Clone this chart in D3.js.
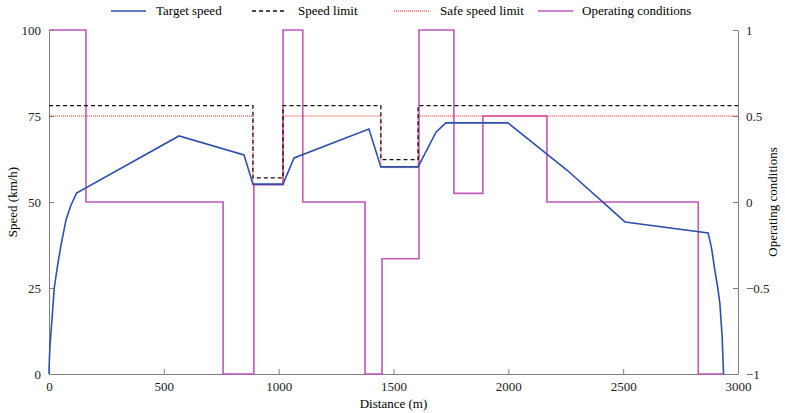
<!DOCTYPE html>
<html>
<head>
<meta charset="utf-8">
<script src="https://cdn.jsdelivr.net/npm/d3@7"></script>
<style>
  body { margin: 0; background: #fff; }
  text { font-family: "Liberation Serif", "Times New Roman", serif; }
</style>
</head>
<body>
<div id="chart"></div>
<script>
// Target speed profile (distance m, speed km/h)
const targetDist  = [0, 1, 4, 12, 23, 36, 51, 74, 95, 120, 566, 849, 888, 1019, 1067, 1393, 1445, 1607, 1685, 1728, 1998, 2255, 2508, 2870, 2885, 2899, 2911, 2921, 2931, 2937];
const targetSpeed = [0, 3, 8, 15, 25, 31, 37, 44.8, 49, 52.6, 69.2, 63.7, 55.2, 55.2, 62.8, 71.2, 60.2, 60.2, 70.3, 73, 73, 59.3, 44.2, 41, 36.5, 30.2, 25.5, 20.6, 10.8, 0];

// Speed limit (step)
const limitDist  = [0, 888, 1019, 1445, 1607, 3000];
const limitSpeed = [78, 57, 78, 62.3, 78, 78];

// Safe speed limit (step)
const safeDist  = [0, 888, 1019, 1445, 1607, 3000];
const safeSpeed = [75, 55, 75, 60, 75, 75];

// Operating conditions (step, right axis)
const condDist  = [0, 161, 758, 892, 1019, 1105, 1376, 1450, 1611, 1763, 1889, 2168, 2827, 2937];
const condValue = [1, 0, -1, 0.1, 1, 0, -1, -0.33, 1, 0.05, 0.5, 0, -1, -1];

const xTicks = [0, 500, 1000, 1500, 2000, 2500, 3000];
const yTicks = [0, 25, 50, 75, 100];
const y2Ticks = [-1, -0.5, 0, 0.5, 1];

const W = 785, H = 413;
const margin = { top: 30, right: 47, bottom: 39, left: 49 };
const width = W - margin.left - margin.right;
const height = H - margin.top - margin.bottom;

const svg = d3.select("#chart").append("svg")
    .attr("width", W)
    .attr("height", H);

const g = svg.append("g")
    .attr("transform", `translate(${margin.left}, ${margin.top})`);

const x = d3.scaleLinear().domain([0, 3000]).range([0, width]);
const y = d3.scaleLinear().domain([0, 100]).range([height, 0]);
const y2 = d3.scaleLinear().domain([-1, 1]).range([height, 0]);

const axisColor = "#7f7f7f";
const fmt = d => (d < 0 ? "\u2212" + Math.abs(d) : String(d));

// Axes with inward ticks
const xAxis = g.append("g")
    .attr("transform", `translate(0, ${height})`)
    .call(d3.axisBottom(x).tickValues(xTicks).tickFormat(d3.format("d")).tickSizeInner(-5).tickSizeOuter(0).tickPadding(8));
const yAxis = g.append("g")
    .call(d3.axisLeft(y).tickValues(yTicks).tickFormat(d3.format("d")).tickSizeInner(-5).tickSizeOuter(0).tickPadding(8));
const y2Axis = g.append("g")
    .attr("transform", `translate(${width}, 0)`)
    .call(d3.axisRight(y2).tickValues(y2Ticks).tickFormat(fmt).tickSizeInner(-5).tickSizeOuter(0).tickPadding(8));

[xAxis, yAxis, y2Axis].forEach(a => {
    a.attr("font-family", null);
    a.select(".domain").attr("stroke", axisColor);
    a.selectAll(".tick line").attr("stroke", axisColor);
    a.selectAll(".tick text")
        .attr("fill", "#222")
        .style("font-size", "13px");
});

// Lines
const line = (xs, ys, ysc, curve) => d3.line()
    .x((d, i) => x(xs[i]))
    .y((d, i) => ysc(ys[i]))
    .curve(curve)(xs);

g.append("path")
    .attr("d", line(condDist, condValue, y2, d3.curveStepAfter))
    .attr("fill", "none")
    .attr("stroke", "#c457b9")
    .attr("stroke-width", 1.6);

g.append("path")
    .attr("d", line(safeDist, safeSpeed, y, d3.curveStepAfter))
    .attr("fill", "none")
    .attr("stroke", "#ff2020")
    .attr("stroke-width", 1)
    .attr("stroke-dasharray", "1,1");

g.append("path")
    .attr("d", line(limitDist, limitSpeed, y, d3.curveStepAfter))
    .attr("fill", "none")
    .attr("stroke", "#111")
    .attr("stroke-width", 1.3)
    .attr("stroke-dasharray", "4,3");

g.append("path")
    .attr("d", line(targetDist, targetSpeed, y, d3.curveLinear))
    .attr("fill", "none")
    .attr("stroke", "#2f4fb0")
    .attr("stroke-width", 1.6);

// Axis titles
svg.append("text")
    .attr("x", margin.left + width / 2)
    .attr("y", H - 5)
    .attr("text-anchor", "middle")
    .style("font-size", "13px")
    .text("Distance (m)");

svg.append("text")
    .attr("transform", `translate(17, ${margin.top + height / 2}) rotate(-90)`)
    .attr("text-anchor", "middle")
    .style("font-size", "13px")
    .text("Speed (km/h)");

svg.append("text")
    .attr("transform", `translate(777, ${margin.top + height / 2}) rotate(-90)`)
    .attr("text-anchor", "middle")
    .style("font-size", "13px")
    .text("Operating conditions");

// Legend
const legendItems = [
    { label: "Target speed", x0: 111, tx: 156, stroke: "#2f4fb0", dash: null, w: 1.6 },
    { label: "Speed limit", x0: 252, tx: 298, stroke: "#111", dash: "4,3", w: 1.3 },
    { label: "Safe speed limit", x0: 394, tx: 440, stroke: "#ff2020", dash: "1,1", w: 1 },
    { label: "Operating conditions", x0: 538, tx: 582, stroke: "#c457b9", dash: null, w: 1.6 }
];
const legend = svg.append("g");
legendItems.forEach(d => {
    legend.append("line")
        .attr("x1", d.x0).attr("x2", d.x0 + 35)
        .attr("y1", 11).attr("y2", 11)
        .attr("stroke", d.stroke)
        .attr("stroke-width", d.w)
        .attr("stroke-dasharray", d.dash);
    legend.append("text")
        .attr("x", d.tx)
        .attr("y", 15)
        .style("font-size", "13px")
        .text(d.label);
});
</script>
</body>
</html>
